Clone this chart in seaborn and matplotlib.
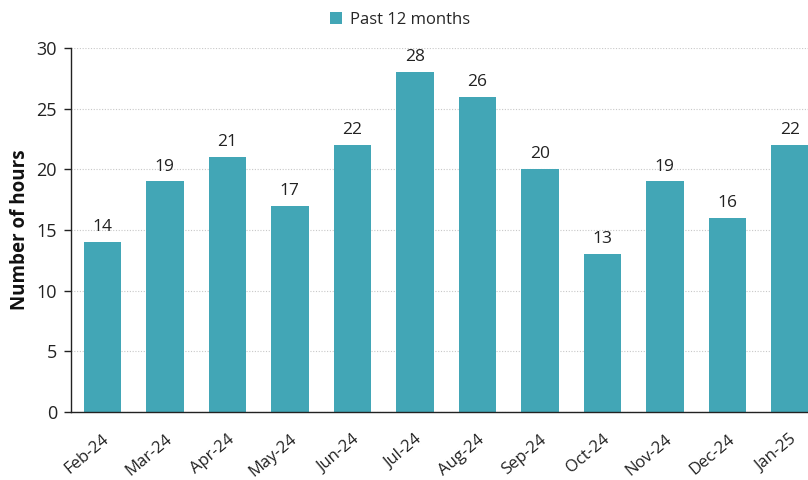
import matplotlib
matplotlib.use("Agg")
import matplotlib.pyplot as plt
import seaborn as sns
import pandas as pd

months = ["Feb-24", "Mar-24", "Apr-24", "May-24", "Jun-24", "Jul-24",
          "Aug-24", "Sep-24", "Oct-24", "Nov-24", "Dec-24", "Jan-25"]
hours = [14, 19, 21, 17, 22, 28, 26, 20, 13, 19, 16, 22]
series_name = "Past 12 months"
y_ticks = [0, 5, 10, 15, 20, 25, 30]

sns.set_theme(style="white")
plt.rcParams["font.family"] = ["Open Sans", "DejaVu Sans"]

df = pd.DataFrame({"month": months, "hours": hours, "series": series_name})
bar_color = "#42a6b6"

fig = plt.figure(figsize=(8.08, 4.8), dpi=100)
ax = fig.add_axes([71 / 808, 68 / 480, 750 / 808, 364 / 480])

sns.barplot(data=df, x="month", y="hours", hue="series", palette=[bar_color],
            width=0.6, ax=ax, legend=True, saturation=1, linewidth=0)

ax.set_ylim(0, 30)
ax.set_yticks(y_ticks)
ax.set_xlim(-0.5, len(months) - 0.5)
ax.yaxis.grid(True, color="#c8c8c8", linestyle=(0, (1, 1.5)), linewidth=0.8)
ax.set_axisbelow(True)

for side in ["top", "right"]:
    ax.spines[side].set_visible(False)
for side in ["left", "bottom"]:
    ax.spines[side].set_color("#222222")
    ax.spines[side].set_linewidth(1.0)

ax.tick_params(axis="y", which="both", left=True, length=5, width=1,
               color="#222222", labelsize=13, labelcolor="#222222", pad=5)
ax.tick_params(axis="x", bottom=False, labelsize=12, labelcolor="#222222", pad=8)
plt.setp(ax.get_xticklabels(), rotation=40, ha="right", rotation_mode="anchor")

ax.set_xlabel("")
ax.set_ylabel("Number of hours", fontsize=13.5, fontweight="bold", color="#111111", labelpad=5)

for container in ax.containers:
    ax.bar_label(container, labels=[str(v) for v in hours], padding=5,
                 fontsize=12.5, color="#222222")

leg = ax.legend(loc="upper center", bbox_to_anchor=(400 / 808, 1.0), bbox_transform=fig.transFigure,
                frameon=False, fontsize=12, handlelength=0.7, handleheight=0.7,
                handletextpad=0.5, borderaxespad=0.3)

fig.savefig("out.png", dpi=100)
